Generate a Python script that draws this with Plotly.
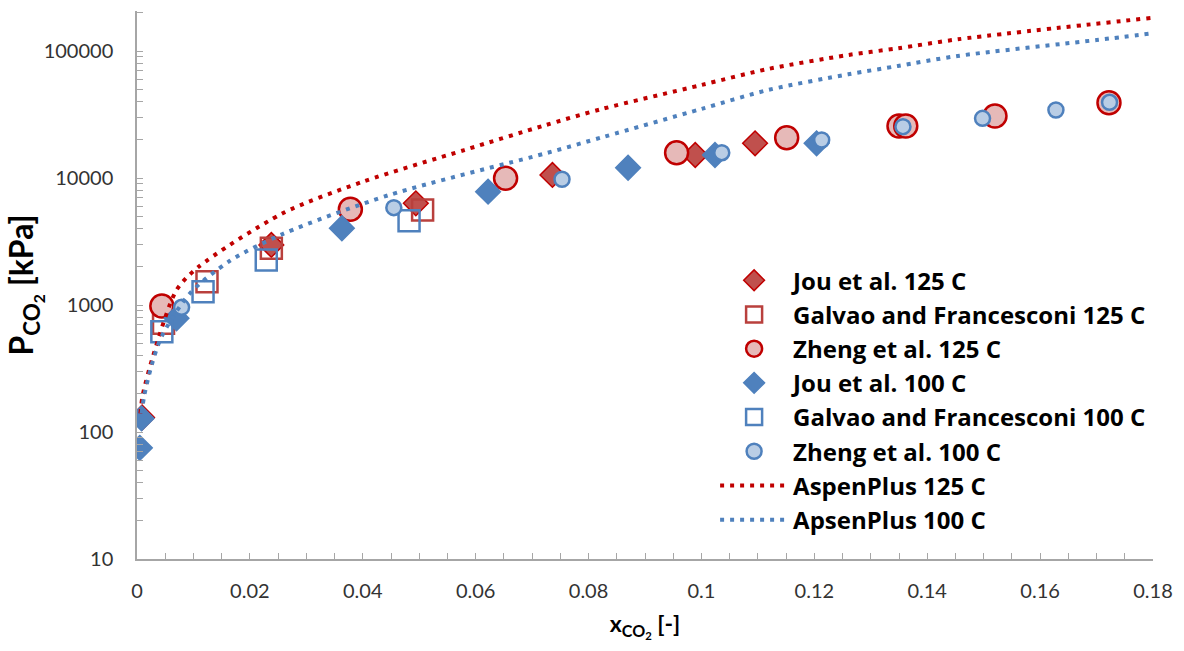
import plotly.graph_objects as go

# ---- data ----
jou125_x = [0.0009, 0.0238, 0.0494, 0.0736, 0.0989, 0.1095]
jou125_p = [130, 2970, 6320, 10570, 15170, 18760]

galvao125_x = [0.0047, 0.0124, 0.0238, 0.0506]
galvao125_p = [718, 1525, 2795, 5600]

zheng125_x = [0.0044, 0.0378, 0.0653, 0.0956, 0.1151, 0.1350, 0.1362, 0.1520, 0.1722]
zheng125_p = [982, 5670, 9950, 15820, 20770, 25660, 25660, 30760, 39180]

jou100_x = [0.0005, 0.0008, 0.0070, 0.0363, 0.0622, 0.0870, 0.1024, 0.1204]
jou100_p = [75, 128, 786, 4020, 7800, 12050, 15170, 18760]

galvao100_x = [0.0044, 0.0117, 0.0229, 0.0482]
galvao100_p = [616, 1273, 2262, 4613]

zheng100_x = [0.0079, 0.0455, 0.0753, 0.1036, 0.1213, 0.1357, 0.1498, 0.1628, 0.1723]
zheng100_p = [959, 5840, 9770, 15820, 19910, 25360, 29510, 34300, 39450]

aspen125_x = [0.0006, 0.001, 0.0029, 0.007, 0.0108, 0.0258, 0.04, 0.058, 0.072,
              0.0823, 0.1, 0.1118, 0.126, 0.1348, 0.1454, 0.18]
aspen125_p = [140, 193, 404, 1310, 1980, 5270, 9350, 16600, 25800,
              34900, 54000, 72200, 93000, 105000, 123600, 182900]

aspen100_x = [0.0008, 0.0013, 0.0026, 0.0044, 0.0094, 0.0164, 0.0258, 0.0447, 0.0724,
              0.0827, 0.1, 0.1118, 0.126, 0.1348, 0.1454, 0.17, 0.18]
aspen100_p = [140, 195, 337, 570, 1237, 2220, 3620, 7350, 15650,
              21100, 35000, 49300, 65500, 76200, 91400, 122000, 137800]

x_ticks = [0, 0.02, 0.04, 0.06, 0.08, 0.1, 0.12, 0.14, 0.16, 0.18]
x_ticklabels = ["0", "0.02", "0.04", "0.06", "0.08", "0.1", "0.12", "0.14", "0.16", "0.18"]
y_ticks = [10, 100, 1000, 10000, 100000]
y_ticklabels = ["10", "100", "1000", "10000", "100000"]

RED = "#C00000"
RED_FILL = "#C0504D"
RED_SQ = "#B9403D"
PINK = "#E6B9B8"
BLUE = "#4F81BD"
LBLUE = "#B9CDE5"
FONT = "Lato"
LEGFONT = "Open Sans"

fig = go.Figure()

def add(name, x, y, symbol, size, fill, line_color, line_w, group):
    fig.add_trace(go.Scatter(
        x=x, y=y, mode="markers", name=name, legendgroup=group,
        marker=dict(symbol=symbol, size=size, color=fill,
                    line=dict(color=line_color, width=line_w)),
    ))

add("Jou et al. 125 C", jou125_x, jou125_p, "diamond", 19, RED_FILL, RED, 1.5, "a")
add("Galvao and Francesconi 125 C", galvao125_x, galvao125_p, "square-open", 21, RED_SQ, RED_SQ, 2.5, "b")
add("Zheng et al. 125 C", zheng125_x, zheng125_p, "circle", 23, PINK, RED, 2.5, "c")
add("Jou et al. 100 C", jou100_x, jou100_p, "diamond", 19, BLUE, BLUE, 1.5, "d")
add("Galvao and Francesconi 100 C", galvao100_x, galvao100_p, "square-open", 21, BLUE, BLUE, 2.5, "e")
add("Zheng et al. 100 C", zheng100_x, zheng100_p, "circle", 15, LBLUE, BLUE, 2.5, "f")

fig.add_trace(go.Scatter(
    x=aspen125_x, y=aspen125_p, mode="lines", name="AspenPlus 125 C", legendgroup="g",
    line=dict(color=RED, width=4, dash="4px,6px", shape="spline", smoothing=0.8),
))
fig.add_trace(go.Scatter(
    x=aspen100_x, y=aspen100_p, mode="lines", name="ApsenPlus 100 C", legendgroup="h",
    line=dict(color=BLUE, width=4, dash="4px,6px", shape="spline", smoothing=0.8),
))

fig.update_layout(
    width=1184, height=651,
    margin=dict(l=137, r=28, t=11, b=92),
    paper_bgcolor="white", plot_bgcolor="white",
    font=dict(family=FONT, size=20, color="#000000"),
    showlegend=True,
    legend=dict(
        x=0.569, y=0.549, xanchor="left", yanchor="top",
        bgcolor="rgba(0,0,0,0)", borderwidth=0,
        font=dict(family=LEGFONT, size=24, color="#000000", weight="bold"),
        itemwidth=68, traceorder="grouped", tracegroupgap=0,
    ),
    xaxis=dict(
        range=[0, 0.18], showgrid=False, zeroline=False,
        showline=True, linecolor="#A6A6A6", linewidth=1.5,
        tickmode="array", tickvals=x_ticks, ticktext=x_ticklabels,
        ticks="inside", ticklen=6, tickcolor="#A6A6A6", tickwidth=1,
        tickfont=dict(family=FONT, size=20, color="#333333"),
        ticklabelstandoff=13,
        minor=dict(dtick=0.005, tick0=0, ticks="inside", ticklen=6,
                   tickcolor="#A6A6A6", showgrid=False),
        title=dict(text="x<sub>CO<sub>2</sub></sub> [-]", standoff=15,
                   font=dict(family=FONT, size=23, color="#000000", weight="bold")),
    ),
    yaxis=dict(
        type="log", range=[1, 5.315], showgrid=False, zeroline=False,
        showline=True, linecolor="#A6A6A6", linewidth=1.5,
        tickmode="array", tickvals=y_ticks, ticktext=y_ticklabels,
        ticks="inside", ticklen=6, tickcolor="#A6A6A6", tickwidth=1,
        tickfont=dict(family=FONT, size=20, color="#333333"),
        ticklabelstandoff=18,
        minor=dict(dtick="D1", ticks="inside", ticklen=6,
                   tickcolor="#A6A6A6", showgrid=False),
        title=dict(text="P<sub>CO<sub>2</sub></sub> [kPa]", standoff=0,
                   font=dict(family=FONT, size=32, color="#000000", weight="bold")),
    ),
)

fig.write_html("out.html")
